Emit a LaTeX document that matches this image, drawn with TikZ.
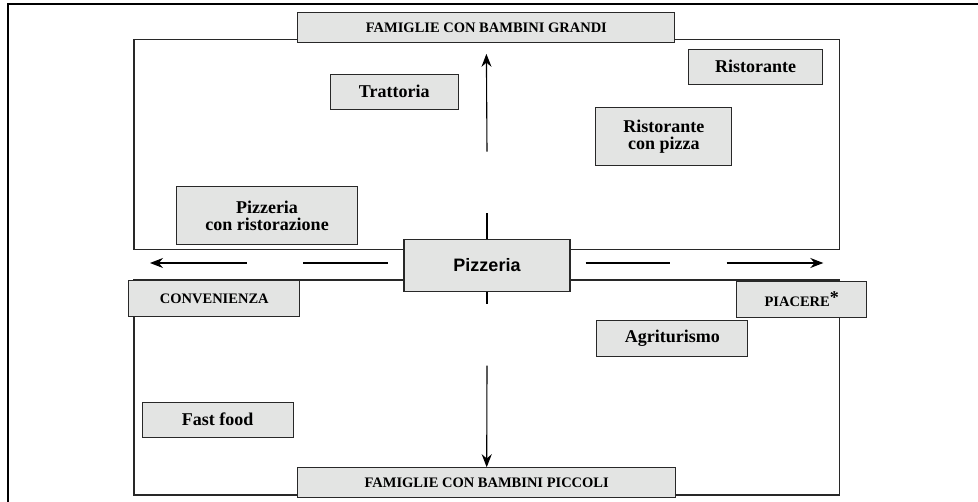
\documentclass[tikz,border=0pt]{standalone}
\usepackage{fontspec}
\setmainfont{Liberation Serif}
\setsansfont{Liberation Sans}
\usepackage{tikz}
\usetikzlibrary{arrows.meta, positioning, calc}
\definecolor{mydark}{RGB}{40,40,40}
\definecolor{boxgray}{RGB}{227,228,227}
\tikzset{
  place/.style={rectangle, draw=mydark, fill=boxgray, line width=1.1pt,
    inner sep=0pt, align=center, font=\fontsize{18}{17}\selectfont\bfseries},
  axislabel/.style={rectangle, draw=mydark, fill=boxgray, line width=1.1pt,
    inner sep=0pt, minimum height=30pt, font=\fontsize{14.5}{16}\selectfont\bfseries},
  quadrant/.style={draw=mydark, line width=1.1pt},
  arrow/.style={-{Stealth[length=13pt, width=10pt]}, line width=1.1pt, color=black},
  line/.style={line width=1.1pt, color=black}
}

\begin{document}
\begin{tikzpicture}[x=1pt, y=-1pt]
  \useasboundingbox (0,0) rectangle (978,502);

  % outer frame (open at right and bottom)
  \draw[line width=2pt, color=black] (7.5,510) -- (7.5,4) -- (990,4);

  % upper and lower fields
  \draw[quadrant] (134,39.3) rectangle (839.3,249.3);
  \draw[quadrant] (134,280) rectangle (839.3,495);

  % axis labels
  \node[axislabel, minimum width=377pt] (grandi) at (486.4,27.3) {FAMIGLIE CON BAMBINI GRANDI};
  \node[axislabel, minimum width=378pt] (piccoli) at (486.7,482.8) {FAMIGLIE CON BAMBINI PICCOLI};
  \node[axislabel, minimum width=171pt, minimum height=36pt] (conv) at (214.3,298.8) {CONVENIENZA};
  \node[axislabel, minimum width=130pt, minimum height=36pt] (piacere) at (801.7,299.5)
    {PIACERE\raisebox{3pt}{\fontsize{18}{18}\selectfont *}};

  % centre
  \node[place, font=\fontsize{18}{18}\selectfont\sffamily\bfseries,
    minimum width=166pt, minimum height=52pt] (pizzeria) at (487,265.2) {Pizzeria};

  % the other places
  \node[place, minimum width=128pt, minimum height=35pt] (trattoria) at (394.2,91.7) {Trattoria};
  \node[place, minimum width=134pt, minimum height=35pt] (ristorante) at (755.5,66.8) {Ristorante};
  \node[place, minimum width=136pt, minimum height=58pt] (ristpizza) at (663.8,136.5) {Ristorante\\con pizza};
  \node[place, minimum width=181pt, minimum height=58pt] (pizzrist) at (267,215.8) {Pizzeria\\con ristorazione};
  \node[place, minimum width=151pt, minimum height=36pt] (agri) at (672.3,338.5) {Agriturismo};
  \node[place, minimum width=151pt, minimum height=35pt] (fastfood) at (217.7,419.7) {Fast food};

  % axes, broken in two pieces each
  \coordinate (upA) at ($(pizzeria.north)+(0,-26)$);
  \coordinate (upB) at ($(pizzeria.north)+(0,-87)$);
  \coordinate (upC) at ($(grandi.south)+(0,11)$);
  \draw[line] (pizzeria.north) -- (upA);
  \draw[arrow] (upB) -- (upC);

  \coordinate (dnA) at ($(pizzeria.south)+(0,12)$);
  \coordinate (dnB) at ($(pizzeria.south)+(0,74)$);
  \draw[line] (pizzeria.south) -- (dnA);
  \draw[arrow] (dnB) -- (piccoli.north);

  \coordinate (lfA) at (387.7,263);
  \coordinate (lfB) at (302.7,263);
  \coordinate (lfC) at (246.7,263);
  \coordinate (lfD) at (150,263);
  \draw[line] (lfA) -- (lfB);
  \draw[arrow] (lfC) -- (lfD);

  \coordinate (rtA) at (585.7,263);
  \coordinate (rtB) at (670.3,263);
  \coordinate (rtC) at (726.7,263);
  \coordinate (rtD) at (823.3,263);
  \draw[line] (rtA) -- (rtB);
  \draw[arrow] (rtC) -- (rtD);
\end{tikzpicture}
\end{document}
